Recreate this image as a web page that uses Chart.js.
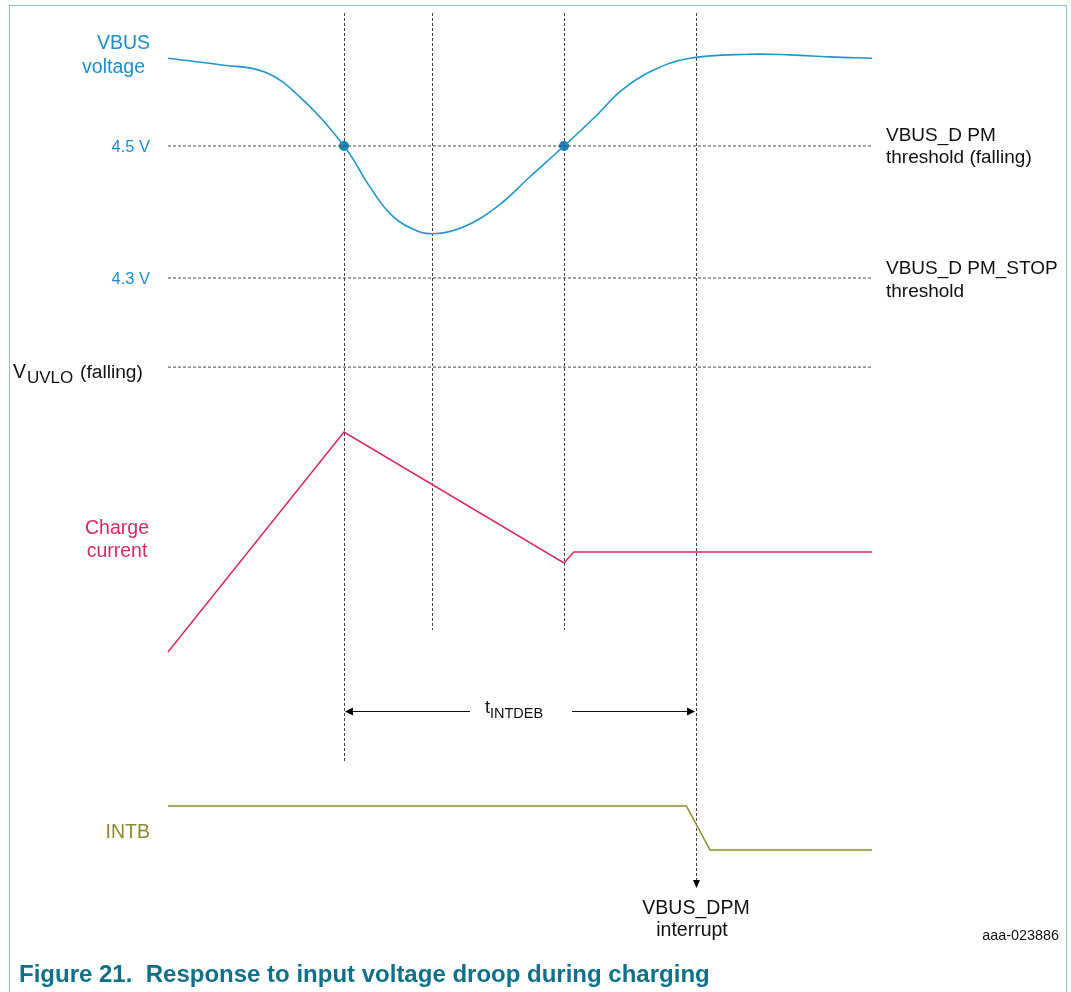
<!DOCTYPE html>
<html>
<head>
<meta charset="utf-8">
<script src="https://cdn.jsdelivr.net/npm/chart.js@4.4.1/dist/chart.umd.min.js"></script>
<style>
  body { margin: 0; background: #fff; }
  #wrap { position: relative; width: 1071px; height: 992px; overflow: hidden; }
  #frame { position: absolute; left: 9px; top: 5px; width: 1056px; height: 1000px; border: 1px solid #8cc1d8; border-bottom: none; }
  #chart { position: absolute; left: 0; top: 0; }
  #caption { position: absolute; left: 19px; top: 960px; font: bold 24px "Liberation Sans", Arial, sans-serif; color: #0f7189; white-space: pre; }
</style>
</head>
<body>
<div id="wrap">
  <div id="frame"></div>
  <canvas id="chart" width="1071" height="992"></canvas>
  <div id="caption">Figure 21.  Response to input voltage droop during charging</div>
</div>
<script>
// time axis in arbitrary units (event markers at 20, 30, 45, 60)
const vbusTime  = [0, 5.9, 11.0, 15.0, 20, 22.95, 25.2, 27.5, 30, 33.5, 37.4, 41.1, 45, 48.75, 51.5, 55.0, 59.3, 66.1, 70.7, 75.2, 80];
const vbusVolts = [4.633, 4.623, 4.612, 4.574, 4.5, 4.438, 4.398, 4.376, 4.367, 4.377, 4.408, 4.453, 4.5, 4.547, 4.584, 4.614, 4.633, 4.639, 4.638, 4.635, 4.633];

const currentTime  = [0, 20, 45, 46.1, 80];
const currentLevel = [0, 1, 0.405, 0.455, 0.455];   // relative to peak

const intbTime  = [0, 58.9, 61.6, 80];
const intbLevel = [1, 1, 0, 0];

const thresholdVolts  = [4.5, 4.3, 4.165];           // DPM, DPM_STOP, UVLO
const thresholdStart  = 0;
const thresholdEnd    = 80;
const crossingTimes   = [20, 45];
const eventTimes      = [20, 30, 45, 60];
const debounceStart   = 20;
const debounceEnd     = 60;

const BLUE = "#1f95c9";
const RED = "#d52a5f";
const OLIVE = "#8a8a2c";
const DASH = "#444";
const FONT = '"Liberation Sans", Arial, sans-serif';

function pts(xs, ys) {
  return xs.map((x, i) => ({ x: x, y: ys[i] }));
}

const datasets = [];
thresholdVolts.forEach(v => {
  datasets.push({
    data: [{ x: thresholdStart, y: v }, { x: thresholdEnd, y: v }],
    yAxisID: "v", borderColor: DASH, borderWidth: 1, borderDash: [3, 2],
    pointRadius: 0, showLine: true
  });
});
datasets.push({
  data: pts(vbusTime, vbusVolts), yAxisID: "v",
  borderColor: BLUE, borderWidth: 1.6, pointRadius: 0, showLine: true,
  tension: 0.4
});
datasets.push({
  data: crossingTimes.map(t => ({ x: t, y: thresholdVolts[0] })), yAxisID: "v",
  showLine: false, pointRadius: 5, pointBackgroundColor: "#1a80b6", pointBorderColor: "#1a80b6", pointBorderWidth: 0
});
datasets.push({
  data: pts(currentTime, currentLevel), yAxisID: "i",
  borderColor: RED, borderWidth: 1.5, pointRadius: 0, showLine: true, tension: 0
});
datasets.push({
  data: pts(intbTime, intbLevel), yAxisID: "d",
  borderColor: OLIVE, borderWidth: 1.5, pointRadius: 0, showLine: true, tension: 0
});

const annotations = {
  id: "annotations",
  beforeDatasetsDraw(chart) {
    const ctx = chart.ctx;
    const x = chart.scales.x;
    const lineEnds = [762, 630, 630, 880];
    ctx.save();
    ctx.strokeStyle = DASH;
    ctx.lineWidth = 1;
    ctx.setLineDash([3, 2]);
    eventTimes.forEach((t, i) => {
      const px = Math.round(x.getPixelForValue(t)) + 0.5;
      ctx.beginPath();
      ctx.moveTo(px, 13);
      ctx.lineTo(px, lineEnds[i]);
      ctx.stroke();
    });
    ctx.restore();
  },
  afterDatasetsDraw(chart) {
    const ctx = chart.ctx;
    const x = chart.scales.x, v = chart.scales.v;
    ctx.save();

    // interrupt arrowhead
    const ix = Math.round(x.getPixelForValue(debounceEnd)) + 0.5;
    ctx.fillStyle = "#000";
    ctx.beginPath();
    ctx.moveTo(ix - 3.5, 880); ctx.lineTo(ix + 3.5, 880); ctx.lineTo(ix, 888); ctx.closePath();
    ctx.fill();

    // t_INTDEB dimension arrow
    const ax0 = x.getPixelForValue(debounceStart), ax1 = x.getPixelForValue(debounceEnd);
    const ay = 711.5;
    ctx.strokeStyle = "#111"; ctx.lineWidth = 1;
    ctx.beginPath();
    ctx.moveTo(ax0 + 2, ay); ctx.lineTo(470, ay);
    ctx.moveTo(572, ay); ctx.lineTo(ax1 - 2, ay);
    ctx.stroke();
    ctx.beginPath();
    ctx.moveTo(ax0 + 1, ay); ctx.lineTo(ax0 + 9, ay - 4); ctx.lineTo(ax0 + 9, ay + 4); ctx.closePath();
    ctx.moveTo(ax1 - 1, ay); ctx.lineTo(ax1 - 9, ay - 4); ctx.lineTo(ax1 - 9, ay + 4); ctx.closePath();
    ctx.fill();

    ctx.textBaseline = "alphabetic";
    ctx.fillStyle = "#111";
    ctx.textAlign = "left";
    ctx.font = "18px " + FONT;
    ctx.fillText("t", 485, 713);
    ctx.font = "14.5px " + FONT;
    ctx.fillText("INTDEB", 490, 718);

    // left labels
    ctx.textAlign = "right";
    ctx.fillStyle = "#1a8fcb";
    ctx.font = "19.5px " + FONT;
    ctx.fillText("VBUS", 150, 49);
    ctx.fillText("voltage", 145, 73);
    ctx.font = "16.5px " + FONT;
    ctx.textBaseline = "middle";
    ctx.fillText("4.5 V", 150, v.getPixelForValue(thresholdVolts[0]) + 1);
    ctx.fillText("4.3 V", 150, v.getPixelForValue(thresholdVolts[1]) + 1);
    ctx.textBaseline = "alphabetic";

    ctx.textAlign = "left";
    ctx.fillStyle = "#111";
    ctx.font = "19.5px " + FONT;
    ctx.fillText("V", 13, 378);
    ctx.font = "17px " + FONT;
    ctx.fillText("UVLO", 27, 383);
    ctx.font = "19.2px " + FONT;
    ctx.fillText("(falling)", 80, 378);

    ctx.textAlign = "center";
    ctx.fillStyle = RED;
    ctx.font = "19.5px " + FONT;
    ctx.fillText("Charge", 117, 534);
    ctx.fillText("current", 117, 557);

    ctx.textAlign = "right";
    ctx.fillStyle = OLIVE;
    ctx.fillText("INTB", 150, 838);

    // right labels
    ctx.textAlign = "left";
    ctx.fillStyle = "#111";
    ctx.font = "19px " + FONT;
    ctx.fillText("VBUS_D PM", 886, 141);
    ctx.fillText("threshold (falling)", 886, 163);
    ctx.fillText("VBUS_D PM_STOP", 886, 274);
    ctx.fillText("threshold", 886, 297);

    ctx.textAlign = "center";
    ctx.font = "19.5px " + FONT;
    ctx.fillText("VBUS_DPM", 696, 914);
    ctx.fillText("interrupt", 692, 936);

    ctx.textAlign = "right";
    ctx.font = "14.4px " + FONT;
    ctx.fillText("aaa-023886", 1059, 940);
    ctx.restore();
  }
};

new Chart(document.getElementById("chart"), {
  type: "scatter",
  data: { datasets: datasets },
  options: {
    responsive: false,
    animation: false,
    devicePixelRatio: 1,
    layout: { padding: 0, autoPadding: false },
    plugins: { legend: { display: false }, tooltip: { enabled: false } },
    scales: {
      x: { type: "linear", display: false, min: -19.09, max: 102.61 },
      v: { type: "linear", display: false, min: 3.2182, max: 4.7212 },
      i: { type: "linear", display: false, min: -1.545, max: 2.9636 },
      d: { type: "linear", display: false, min: -3.227, max: 19.318 }
    }
  },
  plugins: [annotations]
});
</script>
</body>
</html>
